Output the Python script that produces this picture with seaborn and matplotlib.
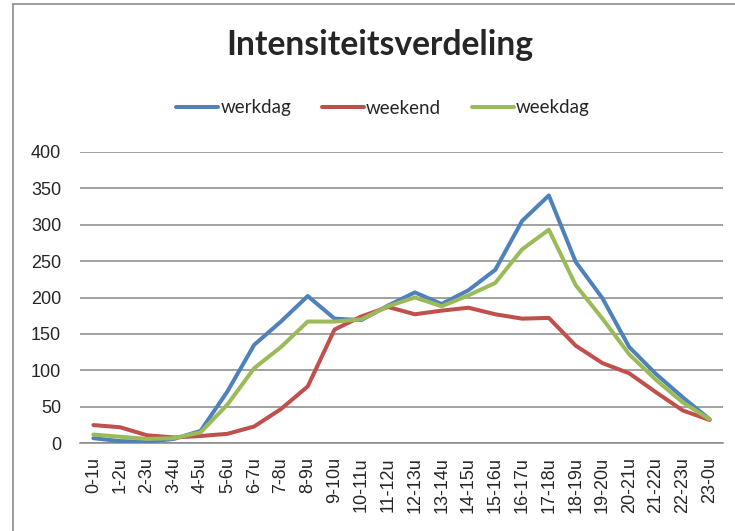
import matplotlib
matplotlib.use("Agg")
import matplotlib.pyplot as plt
from matplotlib.lines import Line2D
import seaborn as sns
import pandas as pd

categories = ["0-1u", "1-2u", "2-3u", "3-4u", "4-5u", "5-6u", "6-7u", "7-8u", "8-9u",
              "9-10u", "10-11u", "11-12u", "12-13u", "13-14u", "14-15u", "15-16u",
              "16-17u", "17-18u", "18-19u", "19-20u", "20-21u", "21-22u", "22-23u", "23-0u"]
werkdag = [7, 3, 2, 6, 17, 71, 135, 167, 202, 171, 169, 189, 207, 191, 210, 238,
           305, 340, 249, 199, 132, 95, 63, 33]
weekend = [25, 22, 11, 8, 10, 13, 23, 47, 78, 156, 174, 187, 177, 182, 186, 177,
           171, 172, 134, 110, 96, 70, 45, 32]
weekdag = [12, 9, 6, 7, 15, 53, 103, 132, 167, 167, 170, 188, 200, 188, 203, 220,
           266, 293, 217, 171, 122, 87, 56, 33]
series_names = ["werkdag", "weekend", "weekdag"]
colors = ["#4F81BD", "#C0504D", "#9BBB59"]
yticks = [0, 50, 100, 150, 200, 250, 300, 350, 400]

rows = []
for name, vals in zip(series_names, [werkdag, weekend, weekdag]):
    for i, (c, v) in enumerate(zip(categories, vals)):
        rows.append({"pos": i, "uur": c, "serie": name, "waarde": v})
df = pd.DataFrame(rows)

sns.set_style("white")
plt.rcParams["font.family"] = ["Liberation Sans", "DejaVu Sans"]

fig = plt.figure(figsize=(7.35, 5.31), dpi=100)
ax = fig.add_axes([80 / 735, 1 - 443.3 / 531, 643 / 735, (443.3 - 151.7) / 531])

sns.lineplot(data=df, x="pos", y="waarde", hue="serie", hue_order=series_names,
             palette=colors, linewidth=2.9, ax=ax, legend=False, zorder=3)

ax.set_xlim(-0.5, len(categories) - 0.5)
ax.set_ylim(0, 400)
ax.set_yticks(yticks)
ax.set_yticklabels([str(t) for t in yticks], fontsize=13)
ax.set_xticks(range(len(categories)))
ax.set_xticklabels(categories, rotation=90, fontsize=13)
ax.tick_params(axis="y", length=0, pad=13.5)
ax.tick_params(axis="x", length=0, pad=10)
ax.set_xlabel("")
ax.set_ylabel("")
ax.grid(axis="y", color="#878787", linewidth=1.1, zorder=0)
ax.grid(axis="x", visible=False)
for s in ["top", "right", "left"]:
    ax.spines[s].set_visible(False)
ax.spines["bottom"].set_color("#878787")
ax.spines["bottom"].set_linewidth(1.1)

fig.text(380 / 735, 1 - 45 / 531, "Intensiteitsverdeling", ha="center", va="center",
         fontsize=24.2, fontweight="bold", family=["Lato", "DejaVu Sans"])

handles = [Line2D([0], [0], color=c, linewidth=2.9) for c in colors]
fig.legend(handles, series_names, loc="center", bbox_to_anchor=(383 / 735, 1 - 108 / 531),
           ncol=3, frameon=False, handlelength=2.25, handletextpad=0.1,
           columnspacing=1.65, prop={"family": ["Lato", "DejaVu Sans"], "size": 13.5})

# chart frame (left and top edges)
fig.add_artist(Line2D([13 / 735, 13 / 735], [0, 1 - 4 / 531], transform=fig.transFigure,
                      color="#8c8c8c", linewidth=1.2))
fig.add_artist(Line2D([13 / 735, 1], [1 - 4 / 531, 1 - 4 / 531], transform=fig.transFigure,
                      color="#8c8c8c", linewidth=1.2))

fig.savefig("out.png", dpi=100, facecolor="white")
